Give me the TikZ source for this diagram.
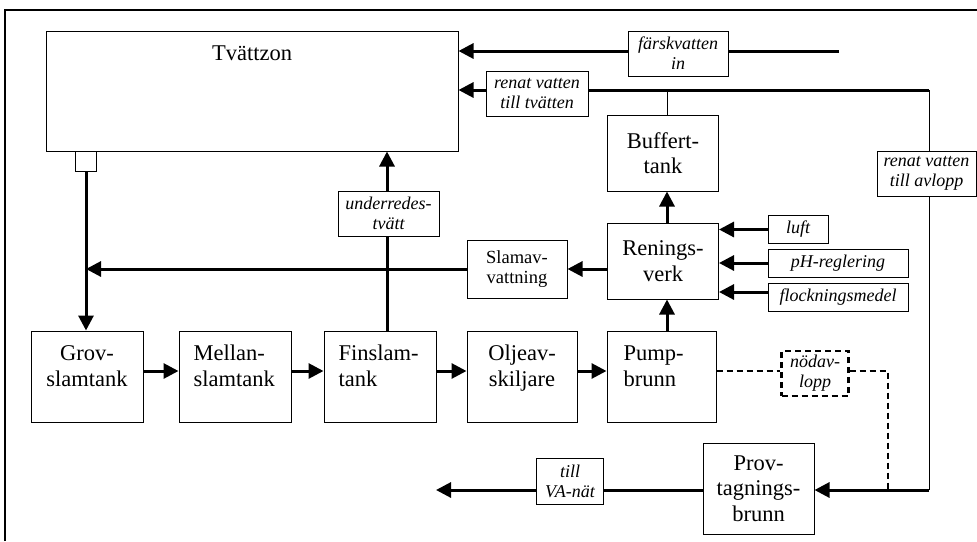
\documentclass[tikz,border=0pt]{standalone}
\usepackage{fontspec}
\setmainfont{Liberation Serif}
\usetikzlibrary{arrows.meta}
\begin{document}
\begin{tikzpicture}[x=1pt,y=-1pt,
  box/.style={draw, line width=1pt, fill=white, inner sep=0pt, align=center},
  sz/.style 2 args={minimum width=#1pt, minimum height=#2pt},
  up/.style={font=\fontsize{22.5}{25.5}\selectfont},
  upsmall/.style={font=\fontsize{18.5}{20}\selectfont},
  itlab/.style={font=\fontsize{18}{20}\selectfont\itshape},
  lab/.style={box, itlab},
  flow/.style={line width=3pt, -{Triangle[length=15pt,width=15pt]}},
  pipe/.style={line width=3pt},
  thinline/.style={line width=1pt},
  dashline/.style={line width=2pt, dash pattern=on 6pt off 4pt},
]
\useasboundingbox (0,0) rectangle (977,541);
% outer frame (cropped at right and bottom)
\draw[line width=1.3pt] (5,541) -- (5,10) -- (977,10);

% main boxes
\node[box, sz={412}{120}] (tvatt) at (252,91) {};
\node[up, anchor=base] (tvattT) at (252,60) {Tvättzon};
\node[box, sz={21}{20}] (sq) at (86,161) {};

\node[box, sz={112}{91}] (grov) at (87,376.5) {};
\node[box, sz={112}{91}] (mellan) at (235,376.5) {};
\node[box, sz={112}{91}] (fin) at (380,376.5) {};
\node[box, sz={110}{91}] (olje) at (522,376.5) {};
\node[box, sz={109}{91}] (pump) at (661.5,376.5) {};

\node[up, align=center, anchor=base] (grovT) at (87,386) {Grov-\\slamtank};
\node[up, align=left, anchor=base west] (mellanT) at (190,386) {Mellan-\\slamtank};
\node[up, align=left, anchor=base west] (finT) at (335,386) {Finslam-\\tank};
\node[up, align=center, anchor=base] (oljeT) at (522,386) {Oljeav-\\skiljare};
\node[up, align=left, anchor=base west] (pumpT) at (620,386) {Pump-\\brunn};

\node[box, upsmall, sz={100}{58}] (slamav) at (517,269) {Slamav-\\vattning};
\node[box, up, sz={111}{76}] (renings) at (663,261) {Renings-\\verk};
\node[box, up, sz={111}{76}] (buffert) at (663,153) {Buffert-\\tank};
\node[box, up, sz={111}{91}] (prov) at (758.5,488.5) {Prov-\\tagnings-\\brunn};

% label boxes
\node[lab, sz={100}{45}] (farsk) at (678,53.5) {färskvatten\\in};
\node[lab, sz={102}{45}] (renat) at (537,93.5) {renat vatten\\till tvätten};
\node[lab, sz={99}{45}] (avlopp) at (926.5,173.5) {renat vatten\\till avlopp};
\node[lab, sz={101}{45}] (under) at (388.5,213.5) {underredes-\\tvätt};
\node[lab, sz={60}{28}] (luft) at (798,229.5) {luft};
\node[lab, sz={140}{28}] (ph) at (838,263) {pH-reglering};
\node[lab, sz={140}{28}] (flock) at (838,297) {flockningsmedel};
\node[lab, sz={67}{46}] (va) at (570,481) {till\\VA-nät};
\node[itlab, draw, line width=2.2pt, dash pattern=on 6pt off 4pt, inner sep=0pt, align=center, sz={67}{45}] (nod) at (815,373.5) {nödav-\\lopp};

% helper coordinates
\coordinate (fend) at (839,51);
\coordinate (rc) at (929,90);
\coordinate (bc) at (929,490);
\coordinate (vx) at (667,0);
\coordinate (ux) at (387,0);
\coordinate (ry) at (0,371);
\coordinate (dk) at (888,371);
\coordinate (dj) at (888,490);
\coordinate (vaend) at (436,490);
\coordinate (fy) at (0,292);

% fresh water in
\draw[pipe] (fend) -- (farsk.east |- fend);
\draw[flow] (farsk.west |- fend) -- (tvatt.east |- fend);
% purified water to wash
\draw[pipe] (rc) -- (renat.east |- rc);
\draw[flow] (renat.west |- rc) -- (tvatt.east |- rc);
\draw[thinline] (buffert.north -| vx) -- (vx |- rc);
% purified water to drain
\draw[thinline] (rc) -- (avlopp.north -| rc);
\draw[thinline] (avlopp.south -| rc) -- (bc);
\draw[flow] (bc) -- (prov.east |- bc);
% to VA network
\draw[pipe] (prov.west |- bc) -- (va.east |- bc);
\draw[flow] (va.west |- bc) -- (vaend);
% emergency outlet
\draw[dashline] (pump.east |- ry) -- (nod.west |- ry);
\draw[dashline] (nod.east |- ry) -- (dk) -- (dj);

% wash zone drain
\draw[flow] (sq.south) -- (grov.north -| sq.south);
\draw[flow] (slamav.west) -- (sq.south |- slamav.west);
\draw[flow] (renings.west |- slamav.east) -- (slamav.east);
% underbody wash
\draw[pipe] (fin.north -| ux) -- (under.south -| ux);
\draw[flow] (under.north -| ux) -- (tvatt.south -| ux);

% tank chain
\draw[flow] (grov.east |- ry) -- (mellan.west |- ry);
\draw[flow] (mellan.east |- ry) -- (fin.west |- ry);
\draw[flow] (fin.east |- ry) -- (olje.west |- ry);
\draw[flow] (olje.east |- ry) -- (pump.west |- ry);

% treatment
\draw[flow] (pump.north -| vx) -- (renings.south -| vx);
\draw[flow] (renings.north -| vx) -- (buffert.south -| vx);
\draw[flow] (luft.west) -- (renings.east |- luft.west);
\draw[flow] (ph.west) -- (renings.east |- ph.west);
\draw[flow] (flock.west |- fy) -- (renings.east |- fy);
\end{tikzpicture}
\end{document}
